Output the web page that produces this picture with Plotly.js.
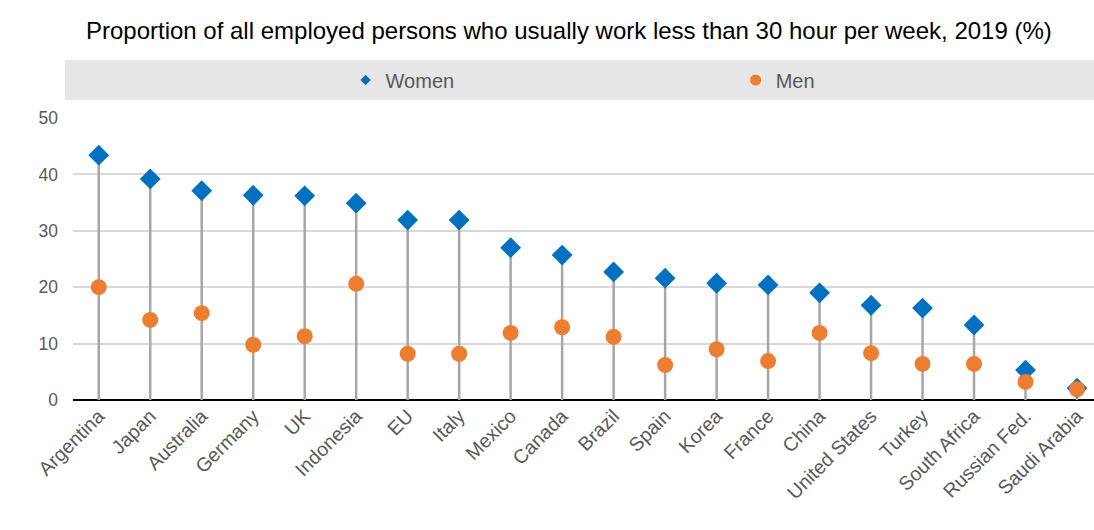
<!DOCTYPE html>
<html>
<head>
<meta charset="utf-8">
<script src="https://cdn.plot.ly/plotly-3.0.1.min.js"></script>
<style>html,body{margin:0;padding:0;background:#fff;}#chart{width:1094px;height:530px;}</style>
</head>
<body>
<div id="chart"></div>
<script>
const countries = ["Argentina","Japan","Australia","Germany","UK","Indonesia","EU","Italy","Mexico","Canada","Brazil","Spain","Korea","France","China","United States","Turkey","South Africa","Russian Fed.","Saudi Arabia"];
const women = [43.4,39.2,37.1,36.3,36.2,34.9,31.9,31.9,27.0,25.7,22.7,21.6,20.7,20.4,19.0,16.8,16.3,13.3,5.3,2.1];
const men = [20.0,14.2,15.4,9.8,11.3,20.6,8.2,8.2,11.9,12.9,11.2,6.2,9.0,6.9,11.9,8.3,6.4,6.4,3.2,1.9];
const yTicks = [0,10,20,30,40,50];

const stemX = [], stemY = [];
countries.forEach((c,i)=>{ stemX.push(c,c,null); stemY.push(0, Math.max(women[i],men[i]), null); });

const font = "Liberation Sans, Arial, sans-serif";
const BLUE = '#0070C0', ORANGE = '#ED7D31';
const data = [
  {x: stemX, y: stemY, type:'scatter', mode:'lines', line:{color:'#a6a6a6', width:2.5}, showlegend:false, hoverinfo:'skip', cliponaxis:false},
  {x: countries, y: women, type:'scatter', mode:'markers', name:'Women', marker:{symbol:'diamond', size:16, color:BLUE}, cliponaxis:false, showlegend:false},
  {x: countries, y: men, type:'scatter', mode:'markers', name:'Men', marker:{symbol:'circle', size:16, color:ORANGE}, cliponaxis:false, showlegend:false},
  {x:[null], y:[null], type:'scatter', mode:'markers', name:'Women', marker:{symbol:'diamond', size:8, color:BLUE}, legend:'legend', showlegend:true},
  {x:[null], y:[null], type:'scatter', mode:'markers', name:'Men', marker:{symbol:'circle', size:11, color:ORANGE}, legend:'legend2', showlegend:true}
];
const legBase = {orientation:'h', xanchor:'left', y:1.1348, yanchor:'middle', bgcolor:'rgba(0,0,0,0)', font:{size:20, color:'#595959', family:font}, itemwidth:30};
const layout = {
  width:1094, height:530,
  margin:{l:73, r:0, t:118, b:130},
  paper_bgcolor:'#ffffff', plot_bgcolor:'#ffffff',
  font:{family:font, color:'#595959', size:16},
  title:{text:'Proportion of all employed persons who usually work less than 30 hour per week, 2019 (%)', font:{family:font, size:24, color:'#000000'}, x:0.52, xanchor:'center', y:0.943, yanchor:'middle'},
  xaxis:{type:'category', range:[-0.5,19.33], showgrid:false, zeroline:false, showline:false, tickangle:-45, ticks:'', tickfont:{size:19.5, color:'#595959'}},
  yaxis:{range:[0,50], tickvals:yTicks, ticktext:yTicks.map(String), showgrid:true, gridcolor:'#d9d9d9', gridwidth:2, zeroline:true, zerolinecolor:'#000000', zerolinewidth:1.5, ticks:'', ticklabelstandoff:14, tickfont:{size:17.5, color:'#595959'}},
  shapes:[{type:'rect', xref:'paper', yref:'paper', x0:-0.0078, x1:1.0, y0:1.0638, y1:1.2057, fillcolor:'#e6e6e6', line:{width:0}, layer:'below'}],
  legend: Object.assign({}, legBase, {x:0.267}),
  legend2: Object.assign({}, legBase, {x:0.649}),
  showlegend:true
};
Plotly.newPlot('chart', data, layout, {displayModeBar:false, staticPlot:true});
</script>
</body>
</html>
